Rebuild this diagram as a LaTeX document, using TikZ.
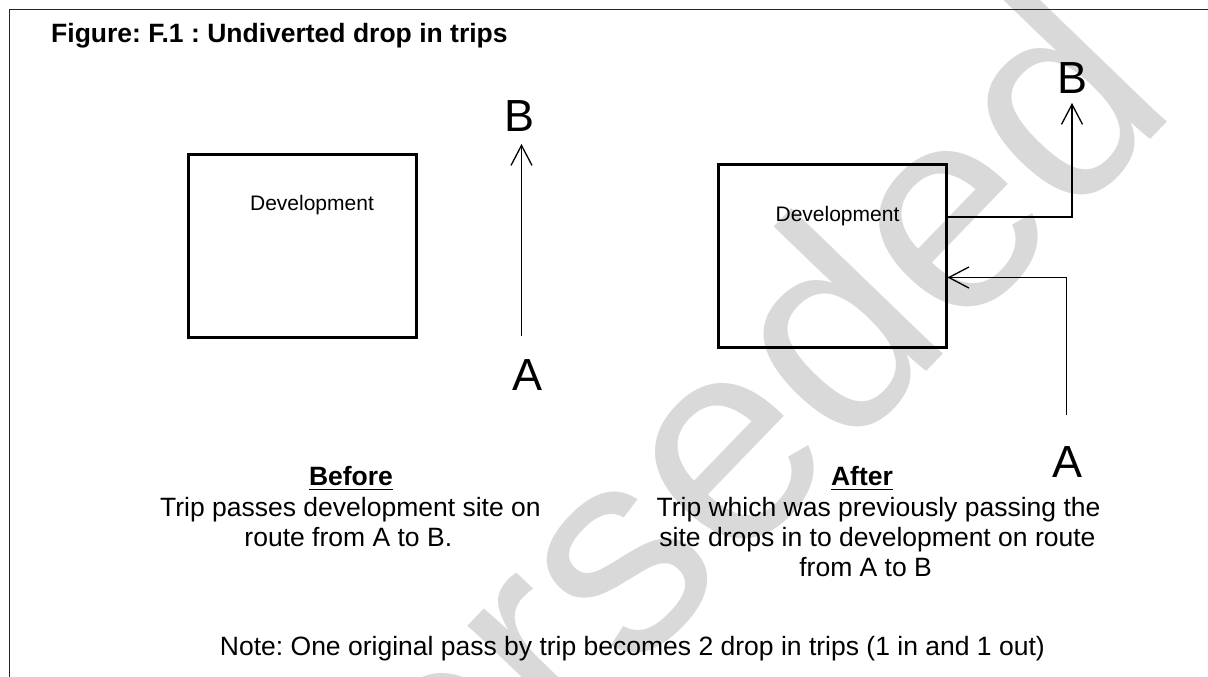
\documentclass[tikz,border=0pt]{standalone}
\usepackage{fontspec}
\setmainfont{Liberation Sans}
\usetikzlibrary{arrows.meta}
\frenchspacing
\begin{document}
\begin{tikzpicture}[x=1pt,y=-1pt,
  frame/.style={line width=1.5pt,draw=black!85},
  devbox/.style={draw,line width=3pt,minimum width=228pt,minimum height=183pt,inner sep=0pt},
  devlabel/.style={font=\fontsize{21}{24}\selectfont,inner sep=0pt},
  body/.style={font=\fontsize{26.5}{30}\selectfont,inner sep=0pt,anchor=base},
  head/.style={font=\bfseries\fontsize{26.5}{30}\selectfont,inner sep=0pt,anchor=base},
  endlabel/.style={font=\fontsize{45}{50}\selectfont,inner sep=0pt,anchor=base},
  trip/.style={line width=1.3pt,-{Straight Barb[length=20pt,width=21pt,line width=1.3pt]}},
  wmark/.style={font=\fontsize{290}{290}\selectfont,text=black!15,inner sep=0pt,rotate=46,anchor=base east}
]
\useasboundingbox (0,0) rectangle (1208,677);
\fill[white] (0,0) rectangle (1208,677);
% watermark
\begin{scope}
\clip (0,0) rectangle (1208,677);
\node[wmark] (wm) at (1181,108) {Superseded};
\end{scope}
% frame
\draw[frame] (9.5,677) -- (9.5,9.3) -- (1208,9.3);
% title
\node[head,anchor=base west] (title) at (51,43) {Figure: F.1 : Undiverted drop in trips};
% before
\node[devbox] (lbox) at (302,246) {};
\node[devlabel] (ldev) at (312,205) {Development};
\node[endlabel] (lB) at (520,131) {B};
\node[endlabel] (lA) at (527.5,390) {A};
\coordinate (lstart) at (521.5,336);
\coordinate (lend) at (521.5,144);
\draw[trip] (lstart) -- (lend);
% after
\node[devbox] (rbox) at (832,255.5) {};
\node[devlabel] (rdev) at (837.5,216) {Development};
\node[endlabel] (rB) at (1072,93) {B};
\node[endlabel] (rA) at (1067.5,477) {A};
\coordinate (rinstart) at (1066.5,415);
\coordinate (rincorner) at (1066.5,277.5);
\draw[trip] (rinstart) -- (rincorner) -- (rincorner -| rbox.east);
\coordinate (routcorner) at (1072,217);
\coordinate (routend) at (1072,103);
\draw[trip] (routcorner -| rbox.east) -- (routcorner) -- (routend);
% captions
\node[head] (before) at (351,485) {Before};
\draw[line width=1.8pt] ([yshift=-4.5pt]before.base west) -- ([yshift=-4.5pt]before.base east);
\node[body] (b1) at (350.4,516.7) {Trip passes development site on};
\node[body] (b2) at (348.3,546.7) {route from A to B.};
\node[head] (after) at (862,485) {After};
\draw[line width=1.8pt] ([yshift=-4.5pt]after.base west) -- ([yshift=-4.5pt]after.base east);
\node[body] (a1) at (878.5,516.7) {Trip which was previously passing the};
\node[body] (a2) at (877.5,546.7) {site drops in to development on route};
\node[body] (a3) at (865.6,576.7) {from A to B};
\node[body] (note) at (632.4,655) {Note: One original pass by trip becomes 2 drop in trips (1 in and 1 out)};
\end{tikzpicture}
\end{document}
